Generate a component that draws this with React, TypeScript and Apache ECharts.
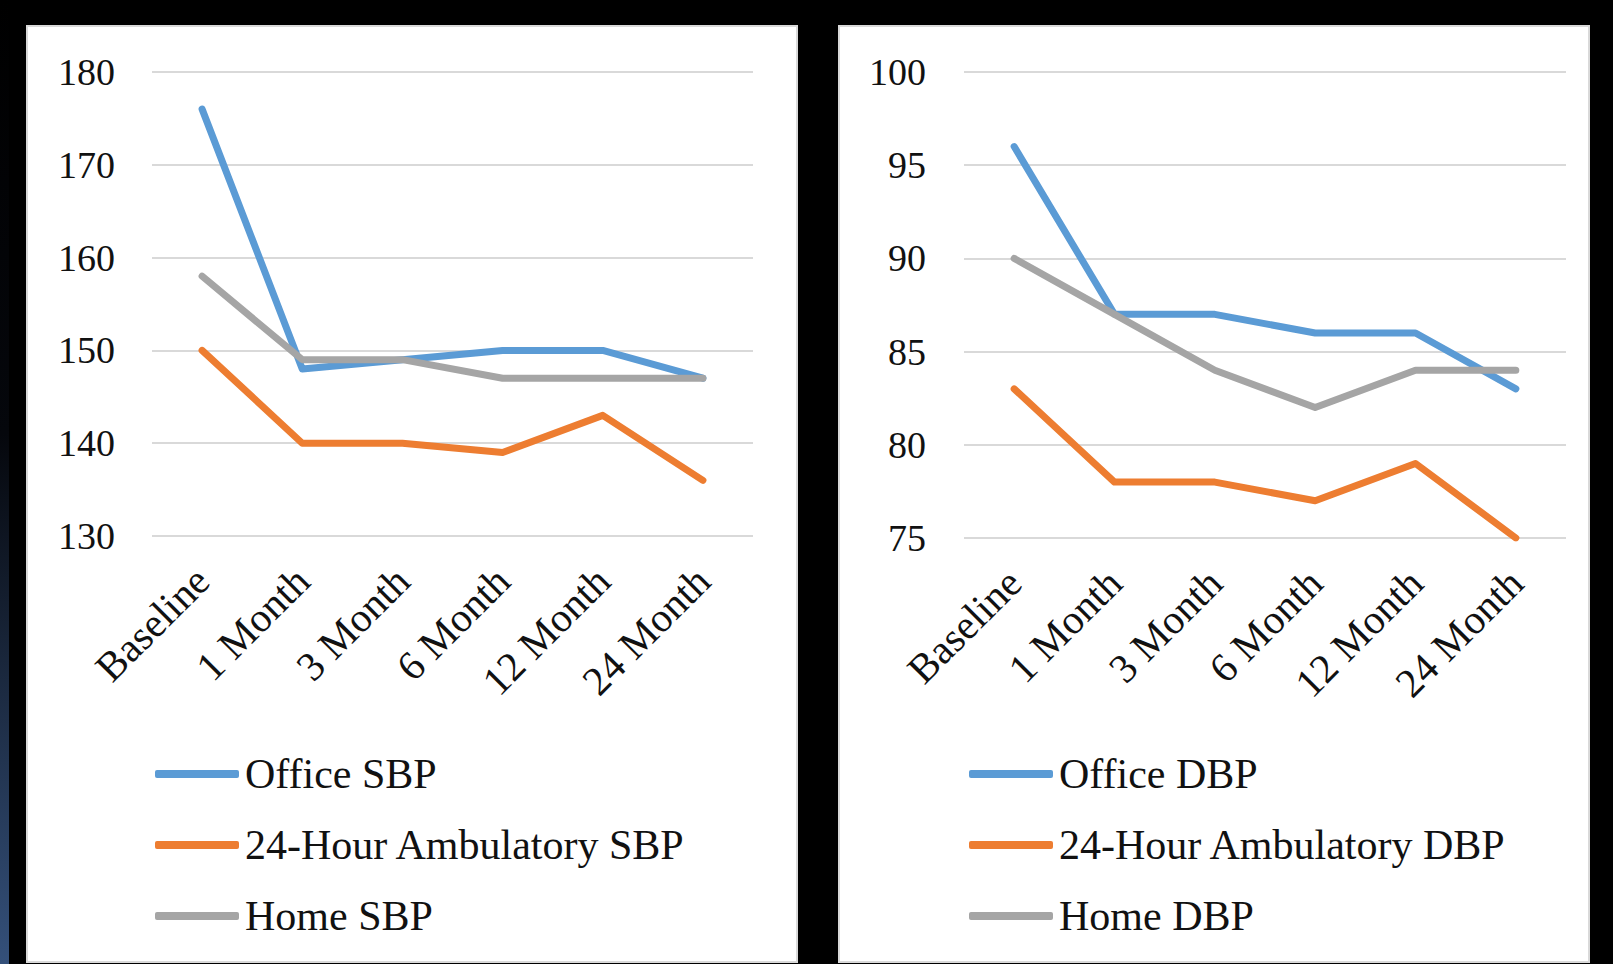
import React, { useEffect, useRef } from "react";
import * as echarts from "echarts";

const categories = ["Baseline", "1 Month", "3 Month", "6 Month", "12 Month", "24 Month"];

const officeSBP = [176, 148, 149, 150, 150, 147];
const ambulatorySBP = [150, 140, 140, 139, 143, 136];
const homeSBP = [158, 149, 149, 147, 147, 147];

const officeDBP = [96, 87, 87, 86, 86, 83];
const ambulatoryDBP = [83, 78, 78, 77, 79, 75];
const homeDBP = [90, 87, 84, 82, 84, 84];

const sbpTicks = { min: 130, max: 180, interval: 10 };
const dbpTicks = { min: 75, max: 100, interval: 5 };

const leftNames = ["Office SBP", "24-Hour Ambulatory SBP", "Home SBP"];
const rightNames = ["Office DBP", "24-Hour Ambulatory DBP", "Home DBP"];

const COLORS = ["#5B9BD5", "#ED7D31", "#A5A5A5"];
const FONT = "'Liberation Serif', 'Times New Roman', serif";

export default function App() {
  const ref = useRef<HTMLDivElement>(null);

  useEffect(() => {
    if (!ref.current) return;
    const chart = echarts.init(ref.current, undefined, { renderer: "svg" });

    const xAxisBase = (gridIndex: number) => ({
      type: "category",
      gridIndex,
      data: categories,
      boundaryGap: true,
      axisLine: { show: false },
      axisTick: { show: false },
      axisLabel: {
        rotate: 45,
        margin: 38,
        fontSize: 41,
        fontFamily: FONT,
        color: "#111",
        interval: 0,
      },
    });

    const yAxisBase = (gridIndex: number, t: { min: number; max: number; interval: number }, margin: number) => ({
      type: "value",
      gridIndex,
      min: t.min,
      max: t.max,
      interval: t.interval,
      axisLine: { show: false },
      axisTick: { show: false },
      axisLabel: { fontSize: 38, fontFamily: FONT, color: "#111", margin },
      splitLine: { lineStyle: { color: "#D9D9D9", width: 2 } },
    });

    const line = (name: string, data: number[], color: string, idx: number) => ({
      name,
      type: "line",
      xAxisIndex: idx,
      yAxisIndex: idx,
      data,
      showSymbol: false,
      symbol: "none",
      color,
      lineStyle: { color, width: 7, cap: "round", join: "round" },
    });

    const legendBase = (left: number, names: string[]) => ({
      data: names,
      orient: "vertical",
      left,
      top: 747,
      icon: "roundRect",
      itemWidth: 84,
      itemHeight: 8,
      itemGap: 27,
      selectedMode: false,
      textStyle: {
        fontSize: 42,
        fontFamily: FONT,
        color: "#111",
        lineHeight: 44,
        padding: [0, 0, 0, 1],
      },
    });

    chart.setOption({
      animation: false,
      backgroundColor: "#000",
      graphic: [
        {
          type: "rect",
          shape: { x: 0, y: 0, width: 9, height: 964 },
          style: {
            fill: new echarts.graphic.LinearGradient(0, 0, 0, 1, [
              { offset: 0, color: "#000000" },
              { offset: 0.45, color: "#05070c" },
              { offset: 1, color: "#34507a" },
            ]),
          },
          silent: true,
          z: -10,
        },
        {
          type: "rect",
          shape: { x: 27, y: 26, width: 770, height: 936 },
          style: { fill: "#ffffff", stroke: "#D9D9D9", lineWidth: 2 },
          silent: true,
          z: -10,
        },
        {
          type: "rect",
          shape: { x: 839, y: 26, width: 750, height: 936 },
          style: { fill: "#ffffff", stroke: "#D9D9D9", lineWidth: 2 },
          silent: true,
          z: -10,
        },
      ],
      grid: [
        { left: 152, top: 72, width: 601, height: 464 },
        { left: 964, top: 72, width: 602, height: 466 },
      ],
      xAxis: [xAxisBase(0), xAxisBase(1)],
      yAxis: [yAxisBase(0, sbpTicks, 37), yAxisBase(1, dbpTicks, 38)],
      legend: [legendBase(150, leftNames), legendBase(964, rightNames)],
      series: [
        line(leftNames[0], officeSBP, COLORS[0], 0),
        line(leftNames[1], ambulatorySBP, COLORS[1], 0),
        line(leftNames[2], homeSBP, COLORS[2], 0),
        line(rightNames[0], officeDBP, COLORS[0], 1),
        line(rightNames[1], ambulatoryDBP, COLORS[1], 1),
        line(rightNames[2], homeDBP, COLORS[2], 1),
      ],
    });

    return () => chart.dispose();
  }, []);

  return (
    <div
      ref={ref}
      style={{ position: "fixed", left: 0, top: 0, width: 1613, height: 964, background: "#000" }}
    />
  );
}
